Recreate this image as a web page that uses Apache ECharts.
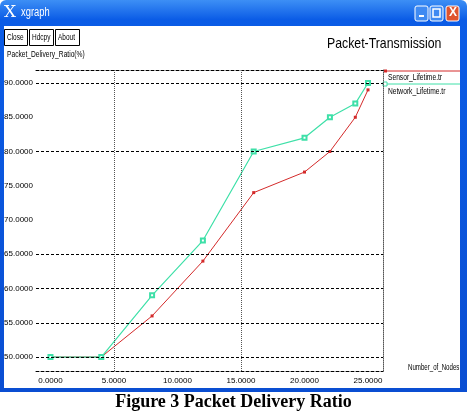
<!DOCTYPE html>
<html>
<head>
<meta charset="utf-8">
<script src="https://cdn.jsdelivr.net/npm/echarts@6/dist/echarts.min.js"></script>
<style>
  html, body { margin: 0; padding: 0; background: #fff; }
  #chart { width: 467px; height: 414px; }
</style>
</head>
<body>
<div id="chart"></div>
<script>
// data
const nodes = [0, 4, 8, 12, 16, 20, 22, 24, 25];
const sensorLifetime = [50, 50, 56, 64, 74, 77, 80, 85, 89];
const networkLifetime = [50, 50, 59, 67, 80, 82, 85, 87, 90];
const xTicks = [0, 5, 10, 15, 20, 25];
const yTicks = [50, 55, 60, 65, 70, 75, 80, 85, 90];
const hGrid = [90, 80, 65, 60, 55, 50];
const vGrid = [5, 15];

const X_MIN = -1.14, X_MAX = 26.18;
const Y_MIN = 47.96, Y_MAX = 91.9;

const sans = "'Liberation Sans', Arial, sans-serif";
const RED = '#d42a2a';
const GREEN = '#3ee0a8';

const chart = echarts.init(document.getElementById('chart'));

function toPair(ys) {
  return nodes.map((x, i) => [x, ys[i]]);
}

// squeezed text, xgraph uses a narrow font
function label(txt, x, y, size, sx, color) {
  return { type: 'text', x: x, y: y, scaleX: sx || 0.8,
    style: { text: txt, fill: color || '#000', font: size + 'px ' + sans } };
}

function button(x, w, txt) {
  return [
    { type: 'rect', shape: { x: x + 0.5, y: 29.5, width: w, height: 16 }, style: { fill: '#fff', stroke: '#000', lineWidth: 1 } },
    label(txt, x + 3, 33, 9, 0.72)
  ];
}

// window chrome (xp title bar, buttons, border)
const chrome = [
  { type: 'rect', shape: { x: 0, y: 0, width: 467, height: 392, r: [6, 6, 0, 0] },
    style: { fill: new echarts.graphic.LinearGradient(0, 0, 0, 1, [
      { offset: 0, color: '#3d8ff5' }, { offset: 0.05, color: '#0b5ce6' },
      { offset: 1, color: '#0a4ed2' }]) } },
  { type: 'rect', shape: { x: 4, y: 26, width: 456, height: 362 }, style: { fill: '#fff' } },
  { type: 'text', x: 4, y: 4, style: { text: 'X', fill: '#fff', font: '17px "DejaVu Serif", serif' } },
  label('xgraph', 21, 7, 12, 0.78, '#fff'),
  { type: 'rect', shape: { x: 415, y: 6, width: 13, height: 15, r: 2 },
    style: { fill: '#3f8af2', stroke: '#fff', lineWidth: 1 } },
  { type: 'rect', shape: { x: 419, y: 15, width: 5, height: 2 }, style: { fill: '#fff' } },
  { type: 'rect', shape: { x: 430, y: 6, width: 13, height: 15, r: 2 },
    style: { fill: '#3f8af2', stroke: '#fff', lineWidth: 1 } },
  { type: 'rect', shape: { x: 433, y: 9, width: 7, height: 8 }, style: { fill: 'none', stroke: '#fff', lineWidth: 1.5 } },
  { type: 'rect', shape: { x: 446, y: 6, width: 13, height: 15, r: 2 },
    style: { fill: '#e0542e', stroke: '#fff', lineWidth: 1 } },
  { type: 'text', x: 449, y: 7, style: { text: 'X', fill: '#fff', font: 'bold 12px sans-serif' } },
  ...button(4, 23, 'Close'),
  ...button(29, 24, 'Hdcpy'),
  ...button(55, 24, 'About'),
  label('Packet_Delivery_Ratio(%)', 7, 50, 9, 0.74),
  label('Packet-Transmission', 327, 36, 15, 0.82),
  label('Number_of_Nodes', 408, 363, 9, 0.68),
  // legend
  { type: 'line', shape: { x1: 385, y1: 71, x2: 460, y2: 71 }, style: { stroke: RED, lineWidth: 1 } },
  { type: 'rect', shape: { x: 384, y: 69.5, width: 3, height: 3 }, style: { fill: RED } },
  label('Sensor_Lifetime.tr', 388, 73, 9, 0.74),
  { type: 'line', shape: { x1: 385, y1: 84, x2: 460, y2: 84 }, style: { stroke: GREEN, lineWidth: 1 } },
  { type: 'rect', shape: { x: 383, y: 82, width: 4, height: 4 }, style: { fill: '#fff', stroke: GREEN } },
  label('Network_Lifetime.tr', 388, 87, 9, 0.74),
  // caption
  { type: 'text', left: 'center', top: 393, style: { text: 'Figure 3 Packet Delivery Ratio', fill: '#000',
    font: 'bold 18px "Liberation Serif", "Times New Roman", serif' } }
];

const option = {
  animation: false,
  backgroundColor: '#fff',
  grid: { left: 36, right: 84, top: 70, bottom: 43 },
  xAxis: [
    {
      type: 'value', min: X_MIN, max: X_MAX, position: 'bottom',
      splitLine: { show: false },
      axisTick: { show: false },
      axisLine: { show: true, onZero: false, lineStyle: { color: '#000', type: [3, 2], width: 1 } },
      axisLabel: {
        customValues: xTicks, margin: 6, color: '#000', fontSize: 8, fontFamily: sans,
        formatter: v => v.toFixed(4)
      }
    },
    {
      type: 'value', min: X_MIN, max: X_MAX, position: 'top',
      splitLine: { show: false }, axisTick: { show: false }, axisLabel: { show: false },
      axisLine: { show: true, onZero: false, lineStyle: { color: '#000', type: [3, 2], width: 1 } }
    }
  ],
  yAxis: [
    {
      type: 'value', min: Y_MIN, max: Y_MAX, position: 'left',
      splitLine: { show: false },
      axisTick: { show: false },
      axisLine: { show: false, onZero: false },
      axisLabel: {
        customValues: yTicks, margin: 3, color: '#000', fontSize: 8, fontFamily: sans,
        formatter: v => v.toFixed(4)
      }
    },
    {
      type: 'value', min: Y_MIN, max: Y_MAX, position: 'right',
      splitLine: { show: false }, axisTick: { show: false }, axisLabel: { show: false },
      axisLine: { show: true, onZero: false, lineStyle: { color: '#555', type: [1, 1], width: 1 } }
    }
  ],
  graphic: chrome,
  series: [
    {
      name: 'Sensor_Lifetime.tr',
      type: 'line',
      data: toPair(sensorLifetime),
      symbol: 'rect', symbolSize: 3,
      lineStyle: { color: RED, width: 1 },
      itemStyle: { color: RED },
      z: 3,
      markLine: {
        silent: true, symbol: 'none', label: { show: false },
        data: [
          ...hGrid.map(v => ({ yAxis: v, lineStyle: { color: '#000', type: [3, 2], width: 1 } })),
          ...vGrid.map(v => ({ xAxis: v, lineStyle: { color: '#555', type: [1, 1], width: 1 } }))
        ]
      }
    },
    {
      name: 'Network_Lifetime.tr',
      type: 'line',
      data: toPair(networkLifetime),
      symbol: 'emptyRect', symbolSize: 4,
      lineStyle: { color: GREEN, width: 1.2 },
      itemStyle: { color: GREEN, borderColor: GREEN },
      z: 4
    }
  ]
};

chart.setOption(option);
</script>
</body>
</html>
